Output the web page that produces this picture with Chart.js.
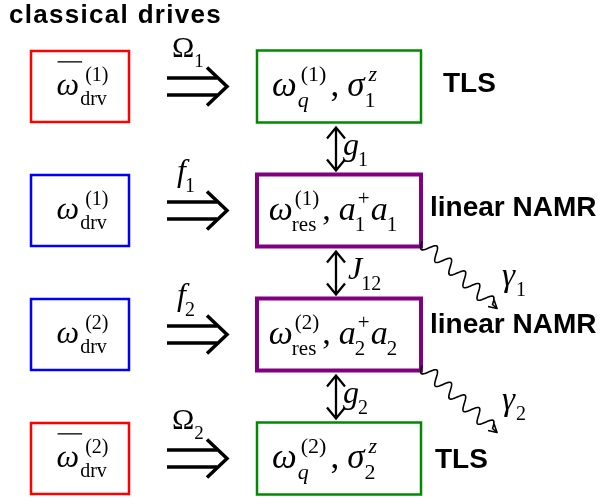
<!DOCTYPE html>
<html><head><meta charset="utf-8">
<script src="https://cdn.jsdelivr.net/npm/chart.js@4"></script>
<style>html,body{margin:0;padding:0;background:#fff;}canvas{display:block;}</style>
</head><body>
<canvas id="c" width="605" height="498"></canvas>
<script>
// ---------------- data ----------------
const title = 'classical drives';
const rows = [0, 1, 2, 3];
const systemNames = ['TLS', 'linear NAMR', 'linear NAMR', 'TLS'];
const systemKinds = ['qubit', 'resonator', 'resonator', 'qubit'];
const systemIndex = ['1', '1', '2', '2'];
const driveBarred = [true, false, false, true];
const driveAmpSymbol = ['Ω', 'f', 'f', 'Ω'];
const driveAmpItalic = [false, true, true, false];
const couplingNames = ['g', 'J', 'g'];
const couplingIndex = ['1', '12', '2'];
const couplingFromRow = [0, 1, 2];
const decayRows = [1, 2];
const decayIndex = ['1', '2'];

// ---------------- styles ----------------
const driveColors = ['#ff0000', '#0000ff', '#0000ff', '#ff0000'];
const systemColors = ['#008a00', '#800080', '#800080', '#008a00'];
const systemLineW = [2.5, 4, 4, 2.5];
const nameDx = [22, 9, 9, 14];
const nameDy = [5.5, 5, -2, 9];
const SERIF = '"Liberation Serif", "Times New Roman", serif';
const SANS = '"Liberation Sans", Arial, sans-serif';

function fnt(it, size) { return (it ? 'italic ' : '') + size + 'px ' + SERIF; }

function drawMath(ctx, items, x0, baseline, size, align) {
  const ss = Math.round(size * 0.62);
  let total = 0;
  const L = [];
  for (const it of items) {
    ctx.font = fnt(it.it, size);
    const wm = ctx.measureText(it.t).width;
    const supOff = it.supOff != null ? it.supOff : (it.it ? 2 : 0);
    let wsup = 0, wsub = 0;
    if (it.sup) { ctx.font = fnt(it.sup.it, ss); wsup = ctx.measureText(it.sup.t).width + supOff; }
    if (it.sub) { ctx.font = fnt(it.sub.it, ss); wsub = ctx.measureText(it.sub.t).width + (it.subOff || 0); }
    const ws = Math.max(wsup, wsub);
    L.push({ it, wm, x: total + (it.padL || 0), supOff });
    total += (it.padL || 0) + wm + (ws ? ws + 1 : 0) + (it.padR || 0);
  }
  let sx = align === 'center' ? x0 - total / 2 : x0;
  ctx.fillStyle = '#000';
  ctx.textBaseline = 'alphabetic';
  ctx.textAlign = 'left';
  for (const e of L) {
    const it = e.it, x = sx + e.x;
    ctx.font = fnt(it.it, size);
    ctx.fillText(it.t, x, baseline);
    if (it.bar) {
      ctx.strokeStyle = '#000'; ctx.lineWidth = 1.3;
      ctx.beginPath(); ctx.moveTo(x + 1, baseline - size * 1.02); ctx.lineTo(x + e.wm + 3, baseline - size * 1.02); ctx.stroke();
    }
    if (it.sup) {
      ctx.font = fnt(it.sup.it, ss);
      ctx.fillText(it.sup.t, x + e.wm + e.supOff, baseline - size * 0.42);
    }
    if (it.sub) {
      ctx.font = fnt(it.sub.it, ss);
      ctx.fillText(it.sub.t, x + e.wm + (it.it ? -1 : 0) + (it.subOff || 0), baseline + size * 0.33);
    }
  }
}

function arrowHead(ctx, x, y, ux, uy, h, w) {
  const nx = -uy, ny = ux;
  ctx.beginPath();
  ctx.moveTo(x - ux * h + nx * w, y - uy * h + ny * w);
  ctx.lineTo(x, y);
  ctx.lineTo(x - ux * h - nx * w, y - uy * h - ny * w);
  ctx.stroke();
}

function wavy(ctx, x0, y0, x1, y1, periods, amp) {
  const dx = x1 - x0, dy = y1 - y0, len = Math.hypot(dx, dy);
  const ux = dx / len, uy = dy / len, nx = -uy, ny = ux;
  const wl = len - 6;
  ctx.beginPath();
  for (let i = 0; i <= 300; i++) {
    const s = i / 300 * wl;
    const o = amp * Math.sin(2 * Math.PI * periods * s / wl);
    if (i === 0) ctx.moveTo(x0 + ux * s + nx * o, y0 + uy * s + ny * o);
    else ctx.lineTo(x0 + ux * s + nx * o, y0 + uy * s + ny * o);
  }
  ctx.lineTo(x1, y1);
  ctx.stroke();
  arrowHead(ctx, x1, y1, ux, uy, 8, 4.5);
}

const diagram = {
  id: 'diagram',
  afterDraw(chart) {
    const ctx = chart.ctx, xs = chart.scales.x, ys = chart.scales.y;
    const xL = xs.getPixelForValue(0), xR = xs.getPixelForValue(1);
    ctx.save();
    // title
    ctx.fillStyle = '#000';
    ctx.font = 'bold 26px ' + SANS;
    ctx.letterSpacing = '1.3px';
    ctx.textAlign = 'left'; ctx.textBaseline = 'alphabetic';
    ctx.fillText(title, 9, 23);
    ctx.letterSpacing = '0px';

    const dW = 49, dH = 35.5, sW = 82, sH = 36;
    rows.forEach((r, i) => {
      const cy = ys.getPixelForValue(r);
      // drive box
      ctx.strokeStyle = driveColors[i]; ctx.lineWidth = 2.5;
      ctx.strokeRect(xL - dW, cy - dH, 2 * dW, 2 * dH);
      drawMath(ctx, [{ t: 'ω', it: true, bar: driveBarred[i], supOff: 6, sup: { t: '(' + systemIndex[i] + ')' }, sub: { t: 'drv' }, subOff: 2 }],
        xL + 3, cy + 8, 32, 'center');
      // system box
      ctx.strokeStyle = systemColors[i]; ctx.lineWidth = systemLineW[i];
      ctx.strokeRect(xR - sW, cy - sH, 2 * sW, 2 * sH);
      const k = systemIndex[i];
      let items;
      if (systemKinds[i] === 'qubit') {
        items = [{ t: 'ω', it: true, supOff: 4, sup: { t: '(' + k + ')' }, sub: { t: 'q', it: true }, subOff: 2 }, { t: ',', padL: 3, padR: 8 },
                 { t: 'σ', it: true, supOff: 4, sup: { t: 'z', it: true }, sub: { t: k }, subOff: 1 }];
        drawMath(ctx, items, xR - 14, cy + 9, 35, 'center');
      } else {
        items = [{ t: 'ω', it: true, sup: { t: '(' + k + ')' }, sub: { t: 'res' } }, { t: ',', padL: 2, padR: 8 },
                 { t: 'a', it: true, sup: { t: '+' }, sub: { t: k } }, { t: 'a', it: true, sub: { t: k } }];
        drawMath(ctx, items, xR - 5, cy + 9, 34, 'center');
      }
      // system name
      ctx.fillStyle = '#000';
      ctx.font = 'bold 28px ' + SANS;
      ctx.textAlign = 'left';
      ctx.fillText(systemNames[i], xR + sW + nameDx[i], cy + nameDy[i]);
      // double arrow (drive)
      const ax0 = xL + dW + 38, tip = xR - sW - 30;
      ctx.strokeStyle = '#000'; ctx.lineWidth = 3.5; ctx.lineCap = 'butt';
      ctx.beginPath();
      ctx.moveTo(ax0, cy - 8.5); ctx.lineTo(tip - 10, cy - 8.5);
      ctx.moveTo(ax0, cy + 8.5); ctx.lineTo(tip - 10, cy + 8.5);
      ctx.stroke();
      ctx.lineJoin = 'miter';
      ctx.beginPath();
      ctx.moveTo(tip - 20, cy - 19); ctx.lineTo(tip, cy); ctx.lineTo(tip - 20, cy + 19);
      ctx.stroke();
      drawMath(ctx, [{ t: driveAmpSymbol[i], it: driveAmpItalic[i], sub: { t: systemIndex[i] } }],
        ax0 + (driveAmpItalic[i] ? 10 : 5), cy - 29.5, driveAmpItalic[i] ? 32 : 30, 'left');
    });

    // couplings
    couplingFromRow.forEach((r, i) => {
      const yTop = ys.getPixelForValue(r) + sH + 5;
      const yBot = ys.getPixelForValue(r + 1) - sH - 4;
      const x = xR - 3;
      ctx.strokeStyle = '#000'; ctx.lineWidth = 2.3; ctx.lineJoin = 'miter';
      ctx.beginPath(); ctx.moveTo(x, yTop + 1); ctx.lineTo(x, yBot - 1); ctx.stroke();
      arrowHead(ctx, x, yTop, 0, -1, 11, 9);
      arrowHead(ctx, x, yBot, 0, 1, 11, 9);
      const mid = (yTop + yBot) / 2;
      drawMath(ctx, [{ t: couplingNames[i], it: true, sub: { t: couplingIndex[i] } }],
        x + (couplingNames[i] === 'J' ? 12 : 7), mid + 6, 32, 'left');
    });

    // decays
    decayRows.forEach((r, i) => {
      const cy = ys.getPixelForValue(r);
      const x0 = xR + sW + 1, y0 = cy + sH - 5;
      const x1 = x0 + 75, y1 = y0 + 67;
      ctx.strokeStyle = '#000'; ctx.lineWidth = 1.6; ctx.lineJoin = 'round';
      wavy(ctx, x0, y0, x1, y1, 5, 6.5);
      drawMath(ctx, [{ t: 'γ', it: true, sub: { t: decayIndex[i] }, subOff: 2 }], x1 + 5, y1 - 23, 33, 'left');
    });
    ctx.restore();
  }
};

new Chart(document.getElementById('c'), {
  type: 'scatter',
  data: { datasets: [{ data: rows.flatMap(r => [{ x: 0, y: r }, { x: 1, y: r }]), pointRadius: 0 }] },
  options: {
    responsive: false, animation: false,
    layout: { padding: 0 },
    plugins: { legend: { display: false }, tooltip: { enabled: false } },
    scales: {
      x: { type: 'linear', display: false, min: -80 / 259, max: (605 - 80) / 259 },
      y: { type: 'linear', display: false, reverse: true, min: -86.5 / 124, max: (498 - 86.5) / 124 }
    }
  },
  plugins: [diagram]
});
</script>
</body></html>
